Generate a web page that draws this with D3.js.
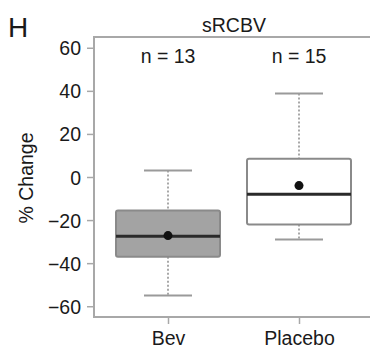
<!DOCTYPE html>
<html>
<head>
<meta charset="utf-8">
<script src="https://cdn.jsdelivr.net/npm/d3@7"></script>
<style>
  body { margin: 0; background: #fff; }
  svg text { font-family: "Liberation Sans", Arial, sans-serif; fill: #1a1a1a; }
</style>
</head>
<body>
<div id="chart"></div>
<script>
'use strict';

// data
const groups = ['Bev', 'Placebo'];
const counts = [13, 15];
const whiskerLow = [-55, -29];
const q1 = [-37, -22];
const medians = [-27.5, -8];
const means = [-27.2, -4];
const q3 = [-15.5, 8.5];
const whiskerHigh = [3, 38.8];
const yTicks = [60, 40, 20, 0, -20, -40, -60];

const w = 370, h = 349;
const margins = { left: 94, top: 37, bottom: 32 };
const fontSize = '19.5px';

const svg = d3.select('#chart').append('svg')
  .attr('width', w)
  .attr('height', h);

const y = d3.scaleLinear()
  .domain([-65, 65])
  .range([h - margins.bottom, margins.top]);

const x = d3.scalePoint()
  .domain(groups)
  .range([168, 299]);

const boxWidth = 104;
const capWidth = 48;
const axisColor = '#a8a8a8';

// frame (left, top, bottom) - right side runs off the picture
svg.append('path')
  .attr('d', 'M' + (w + 5) + ',' + y(65) + 'H' + margins.left + 'V' + y(-65) + 'H' + (w + 5))
  .attr('fill', 'none')
  .attr('stroke', axisColor)
  .attr('stroke-width', 2);

// y axis
const yAxis = d3.axisLeft(y)
  .tickValues(yTicks)
  .tickSize(6)
  .tickPadding(6)
  .tickFormat(d => d < 0 ? '\u2212' + Math.abs(d) : d);

const gy = svg.append('g')
  .attr('transform', 'translate(' + (margins.left - 1) + ',0)')
  .call(yAxis);
gy.select('.domain').remove();
gy.selectAll('.tick line').attr('stroke', axisColor).attr('stroke-width', 1.5);
gy.selectAll('.tick text')
  .style('font-size', fontSize)
  .attr('dy', '0.36em');

// x axis
const xAxis = d3.axisBottom(x).tickSize(6).tickPadding(10);
const gx = svg.append('g')
  .attr('transform', 'translate(0,' + (y(-65) + 1) + ')')
  .call(xAxis);
gx.select('.domain').remove();
gx.selectAll('.tick line').attr('stroke', axisColor).attr('stroke-width', 1.5);
gx.selectAll('.tick text')
  .style('font-size', fontSize)
  .attr('dy', null)
  .attr('y', 27);

// boxes
const data = groups.map((g, i) => ({
  name: g, n: counts[i], lo: whiskerLow[i], q1: q1[i], med: medians[i],
  mean: means[i], q3: q3[i], hi: whiskerHigh[i]
}));

const box = svg.selectAll('.box')
  .data(data)
  .enter()
  .append('g')
  .attr('class', 'box')
  .attr('transform', d => 'translate(' + x(d.name) + ',0)');

// whiskers (dotted)
box.append('line')
  .attr('y1', d => y(d.hi)).attr('y2', d => y(d.q3))
  .attr('stroke', '#8c8c8c').attr('stroke-width', 1.5)
  .attr('stroke-dasharray', '2,2');
box.append('line')
  .attr('y1', d => y(d.q1)).attr('y2', d => y(d.lo))
  .attr('stroke', '#8c8c8c').attr('stroke-width', 1.5)
  .attr('stroke-dasharray', '2,2');

// caps
box.selectAll('.cap')
  .data(d => [d.hi, d.lo])
  .enter()
  .append('line')
  .attr('x1', -capWidth / 2).attr('x2', capWidth / 2)
  .attr('y1', d => y(d)).attr('y2', d => y(d))
  .attr('stroke', '#9a9a9a').attr('stroke-width', 2);

box.append('rect')
  .attr('x', -boxWidth / 2)
  .attr('width', boxWidth)
  .attr('y', d => y(d.q3))
  .attr('height', d => y(d.q1) - y(d.q3))
  .attr('rx', 2)
  .attr('fill', (d, i) => i === 0 ? '#a3a3a3' : '#ffffff')
  .attr('stroke', '#8a8a8a')
  .attr('stroke-width', 2);

box.append('line')
  .attr('x1', -boxWidth / 2).attr('x2', boxWidth / 2)
  .attr('y1', d => y(d.med)).attr('y2', d => y(d.med))
  .attr('stroke', '#2a2a2a').attr('stroke-width', 3);

box.append('circle')
  .attr('cy', d => y(d.mean))
  .attr('r', 4.5)
  .attr('fill', '#111');

box.append('text')
  .attr('y', 63)
  .attr('text-anchor', 'middle')
  .style('font-size', fontSize)
  .text(d => 'n = ' + d.n);

// titles
svg.append('text')
  .attr('x', 8).attr('y', 37)
  .style('font-size', '28px')
  .text('H');

svg.append('text')
  .attr('x', 234).attr('y', 32)
  .attr('text-anchor', 'middle')
  .style('font-size', fontSize)
  .text('sRCBV');

svg.append('text')
  .attr('transform', 'translate(33,' + (y(0) + 1) + ') rotate(-90)')
  .attr('text-anchor', 'middle')
  .style('font-size', fontSize)
  .text('% Change');
</script>
</body>
</html>
